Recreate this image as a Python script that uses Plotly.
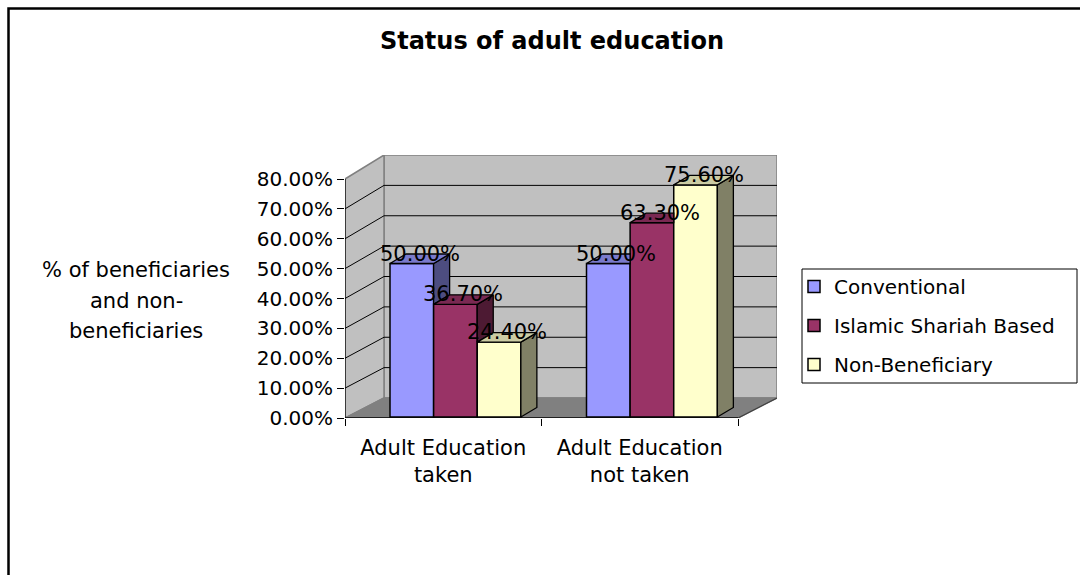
import plotly.graph_objects as go

# ---------------- data ----------------
categories = ["Adult Education<br>taken", "Adult Education<br>not taken"]
series_names = ["Conventional", "Islamic Shariah Based", "Non-Beneficiary"]
conventional = [0.500, 0.500]
islamic_shariah = [0.367, 0.633]
non_beneficiary = [0.244, 0.756]
series_values = [conventional, islamic_shariah, non_beneficiary]
y_tick_values = [0.0, 0.1, 0.2, 0.3, 0.4, 0.5, 0.6, 0.7, 0.8]
y_axis_title = ["% of beneficiaries", "and non-", "beneficiaries"]
chart_title = "Status of adult education"

# ---------------- styles ----------------
front_colors = ["#9999FF", "#993366", "#FFFFCC"]
side_colors = ["#4D4D80", "#4D1A33", "#808066"]
top_colors = ["#7A7ACC", "#7A2952", "#CCCCA3"]
FONT = "DejaVu Sans"

W, H = 1080, 575
PL, PR, PT, PB = 345, 777, 155, 418          # plot area in pixels
CAT_PX = 196.5                               # pixels per category
X_MIN = -0.5
X_MAX = X_MIN + (PR - PL) / CAT_PX
WALL_DX = 39 / CAT_PX                        # depth of the 3-D box (x units)
Y_PX = 298.75                                # px per unit on the tick axis
Y_MAX = (PB - PT) / Y_PX
BACK_OFF = 20 / Y_PX                         # back wall offset (tick axis units)
BACK_SCALE = 303.75 / Y_PX
BAR_PX = 307.0                               # px per unit for bar faces
Y2_MIN = -1 / BAR_PX
Y2_MAX = (PB - 1 - PT) / BAR_PX
BAR_W = 0.222
GROUP_START = -0.271
BAR_DX = 16 / CAT_PX
BAR_DY = 9.5 / BAR_PX


def yb(v):
    return BACK_OFF + v * BACK_SCALE


def px_to_paper_x(px):
    return (px - PL) / (PR - PL)


def px_to_paper_y(py):
    return (PB - py) / (PB - PT)


fig = go.Figure()
shapes = []

# back wall
bx0, bx1 = X_MIN + WALL_DX, 1.5 + WALL_DX
shapes.append(dict(type="rect", xref="x", yref="y", x0=bx0, x1=bx1,
                   y0=yb(0), y1=yb(0.8), fillcolor="#C0C0C0",
                   line=dict(color="#808080", width=1.5), layer="below"))
# side wall
shapes.append(dict(type="path", xref="x", yref="y",
                   path=f"M{X_MIN},0 L{X_MIN},0.8 L{bx0},{yb(0.8)} L{bx0},{yb(0)} Z",
                   fillcolor="#C0C0C0", line=dict(color="#808080", width=1.5),
                   layer="below"))
# floor
shapes.append(dict(type="path", xref="x", yref="y",
                   path=f"M{X_MIN},0 L1.5,0 L{bx1},{yb(0)} L{bx0},{yb(0)} Z",
                   fillcolor="#808080", line=dict(color="#808080", width=1.5),
                   layer="below"))
# gridlines on back and side wall
for v in y_tick_values[1:-1]:
    shapes.append(dict(type="line", xref="x", yref="y", x0=bx0, x1=bx1,
                       y0=yb(v), y1=yb(v), line=dict(color="black", width=1),
                       layer="below"))
    shapes.append(dict(type="line", xref="x", yref="y", x0=X_MIN, x1=bx0,
                       y0=v, y1=yb(v), line=dict(color="black", width=1),
                       layer="below"))
# front edges
shapes.append(dict(type="line", xref="x", yref="y", x0=X_MIN, x1=X_MIN,
                   y0=0, y1=0.8, line=dict(color="black", width=1.2), layer="below"))
shapes.append(dict(type="line", xref="x", yref="y", x0=X_MIN, x1=1.5,
                   y0=0, y1=0, line=dict(color="black", width=1.5), layer="below"))
shapes.append(dict(type="line", xref="x", yref="y", x0=1.5, x1=bx1,
                   y0=0, y1=yb(0), line=dict(color="#404040", width=1.2), layer="below"))

# outer chart border
shapes.append(dict(type="rect", xref="paper", yref="paper",
                   x0=px_to_paper_x(8.5), x1=px_to_paper_x(1100),
                   y0=px_to_paper_y(600), y1=px_to_paper_y(8.5),
                   line=dict(color="black", width=2.5), fillcolor="rgba(0,0,0,0)"))
# legend border
shapes.append(dict(type="rect", xref="paper", yref="paper",
                   x0=px_to_paper_x(802), x1=px_to_paper_x(1077),
                   y0=px_to_paper_y(383), y1=px_to_paper_y(269),
                   line=dict(color="black", width=1), fillcolor="rgba(0,0,0,0)"))

# front faces of the bars
cat_idx = list(range(len(categories)))
for k, (name, vals) in enumerate(zip(series_names, series_values)):
    fig.add_trace(go.Bar(
        x=cat_idx, y=vals, name=name, yaxis="y2",
        width=BAR_W, offset=GROUP_START + k * BAR_W,
        marker=dict(color=front_colors[k], line=dict(color="black", width=1.5)),
        legendgroup=name, hoverinfo="skip"))

# side and top faces (hidden parts clipped by the next bar in the group)
annotations = []
for i in cat_idx:
    for k, vals in enumerate(series_values):
        v = vals[i]
        nxt = series_values[k + 1][i] if k + 1 < len(series_values) else 0.0
        x0 = i + GROUP_START + k * BAR_W
        x1 = x0 + BAR_W
        if v > nxt:
            fig.add_trace(go.Scatter(
                x=[x1, x1, x1 + BAR_DX, x1 + BAR_DX, x1],
                y=[nxt, v, v + BAR_DY, nxt + BAR_DY, nxt],
                yaxis="y2", mode="lines", fill="toself",
                fillcolor=side_colors[k], line=dict(color="black", width=1.3),
                showlegend=False, hoverinfo="skip"))
            tx = [x0, x1, x1 + BAR_DX, x0 + BAR_DX, x0]
            ty = [v, v, v + BAR_DY, v + BAR_DY, v]
        else:
            tx = [x0, x1, x1, x0 + BAR_DX, x0]
            ty = [v, v, v + BAR_DY, v + BAR_DY, v]
        fig.add_trace(go.Scatter(
            x=tx, y=ty, yaxis="y2", mode="lines", fill="toself",
            fillcolor=top_colors[k], line=dict(color="black", width=1.3),
            showlegend=False, hoverinfo="skip"))
        annotations.append(dict(
            x=(x0 + x1 + BAR_DX) / 2, y=v, xref="x", yref="y2",
            text=f"{v * 100:.2f}%", showarrow=False, yanchor="middle",
            yshift=10, font=dict(family=FONT, size=21, color="black")))

# y-axis title (horizontal, three lines)
for j, line in enumerate(y_axis_title):
    annotations.append(dict(
        x=px_to_paper_x(136), y=px_to_paper_y(270 + 30.5 * j),
        xref="paper", yref="paper", text=line, showarrow=False,
        xanchor="center", yanchor="middle",
        font=dict(family=FONT, size=21, color="black")))

fig.update_layout(
    width=W, height=H,
    margin=dict(l=PL, r=W - PR, t=PT, b=H - PB, pad=0),
    paper_bgcolor="white", plot_bgcolor="rgba(0,0,0,0)",
    barmode="overlay",
    title=dict(text=f"<b>{chart_title}</b>", x=552 / W, y=1 - 41 / H,
               xref="container", yref="container", xanchor="center",
               yanchor="middle", font=dict(family=FONT, size=24, color="black")),
    xaxis=dict(range=[X_MIN, X_MAX], tickvals=cat_idx, ticktext=categories,
               ticks="", showgrid=False, zeroline=False, showline=False,
               ticklabelstandoff=15,
               tickfont=dict(family=FONT, size=21, color="black"),
               minor=dict(tickvals=[-0.5, 0.5, 1.5], ticks="outside",
                          ticklen=7, tickcolor="black", tickwidth=1)),
    yaxis=dict(range=[0, Y_MAX], tickvals=y_tick_values, tickformat=".2%",
               ticks="outside", ticklen=7, tickcolor="black", tickwidth=1,
               showgrid=False, zeroline=False, showline=False,
               tickfont=dict(family=FONT, size=20, color="black")),
    yaxis2=dict(range=[Y2_MIN, Y2_MAX], overlaying="y", visible=False),
    legend=dict(x=794 / W, y=1 - 267 / H, xref="container", yref="container",
                xanchor="left", yanchor="top", traceorder="grouped",
                tracegroupgap=10, bgcolor="rgba(0,0,0,0)", borderwidth=0,
                font=dict(family=FONT, size=20, color="black")),
    shapes=shapes, annotations=annotations, showlegend=True,
)

fig.write_html("out.html")
